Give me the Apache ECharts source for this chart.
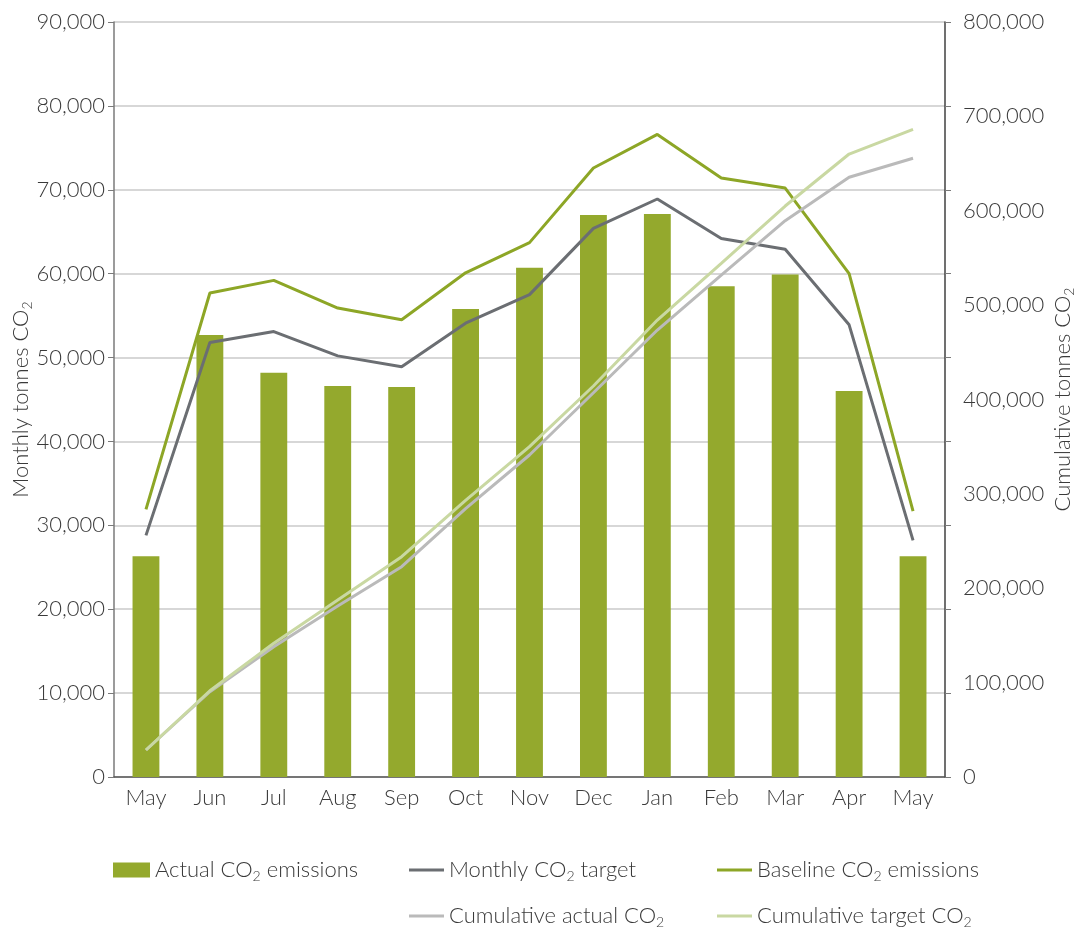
<!DOCTYPE html>
<html>
<head>
<meta charset="utf-8">
<script src="https://cdn.jsdelivr.net/npm/echarts@6/dist/echarts.min.js"></script>
<style>
html,body{margin:0;padding:0;background:#fff;}
#chart{width:1076px;height:928px;}
</style>
</head>
<body>
<div id="chart"></div>
<script>
const months = ['May','Jun','Jul','Aug','Sep','Oct','Nov','Dec','Jan','Feb','Mar','Apr','May'];
const actualCO2 = [26300, 52700, 48200, 46600, 46500, 55800, 60700, 67000, 67100, 58500, 59900, 46000, 26300];
const monthlyTarget = [28800, 51800, 53100, 50200, 48900, 54100, 57500, 65400, 68900, 64200, 62900, 53900, 28200];
const baselineCO2 = [31900, 57700, 59200, 55900, 54500, 60100, 63700, 72600, 76600, 71400, 70200, 60000, 31700];
const cumulativeActual = [28600, 90400, 138100, 181200, 222800, 284300, 341200, 407200, 473600, 531900, 589500, 635500, 655600];
const cumulativeTarget = [28600, 91400, 141700, 187600, 233400, 293200, 350000, 414300, 484200, 544300, 605000, 660100, 686300];
const leftTicks = {min: 0, max: 90000, interval: 10000};
const rightTicks = {min: 0, max: 800000, interval: 100000};

const FONT = 'Lato';
const FS = 22;
const TXT = '#3a3a3a';
const C_BAR = '#94A92D';
const C_BASE = '#8DA626';
const C_TGT = '#6B6E72';
const C_CA = '#BABABA';
const C_CT = '#C9D8A2';

const sub = s => s.replace('CO2', 'CO{s|2}');
const richSub = {s: {fontSize: 14, fontFamily: FONT, fontWeight: 300, color: TXT, padding: [13, 0, 0, 0]}};
const fmt = v => Number(v).toLocaleString('en-US');

const chart = echarts.init(document.getElementById('chart'));

function lg(name, left, top, isBar) {
  return {
    data: [name],
    left: left, top: top,
    padding: 0,
    orient: 'horizontal',
    icon: 'rect',
    itemWidth: isBar ? 37 : 35,
    itemHeight: isBar ? 15 : 3,
    itemGap: 8,
    selectedMode: false,
    formatter: n => sub(n),
    textStyle: {fontFamily: FONT, fontWeight: 300, fontSize: FS, color: TXT, rich: richSub}
  };
}

chart.setOption({
  animation: false,
  backgroundColor: '#fff',
  grid: {left: 114, right: 131, top: 22, bottom: 151, containLabel: false, outerBoundsMode: 'none'},
  legend: [
    lg('Actual CO2 emissions', 113, 859, true),
    lg('Monthly CO2 target', 409, 859, false),
    lg('Baseline CO2 emissions', 717, 859, false),
    lg('Cumulative actual CO2', 409, 905, false),
    lg('Cumulative target CO2', 717, 905, false)
  ],
  xAxis: {
    type: 'category',
    data: months,
    boundaryGap: true,
    axisLine: {show: true, lineStyle: {color: '#555', width: 1.5}},
    axisTick: {show: false},
    axisLabel: {fontFamily: FONT, fontWeight: 300, fontSize: FS, color: TXT, margin: 10}
  },
  yAxis: [
    {
      type: 'value', position: 'left',
      min: leftTicks.min, max: leftTicks.max, interval: leftTicks.interval,
      name: 'Monthly tonnes CO{s|2}',
      nameLocation: 'middle', nameRotate: 90, nameGap: 80, nameMoveOverlap: false,
      nameTextStyle: {fontFamily: FONT, fontWeight: 300, fontSize: FS, color: TXT, rich: richSub},
      axisLine: {show: true, lineStyle: {color: '#7a7a7a', width: 1.5}},
      axisTick: {show: true, length: 6, lineStyle: {color: '#7a7a7a'}},
      axisLabel: {fontFamily: FONT, fontWeight: 300, fontSize: FS, color: TXT, margin: 9, formatter: fmt},
      splitLine: {show: true, lineStyle: {color: '#CACACA', width: 1.5}}
    },
    {
      type: 'value', position: 'right',
      min: rightTicks.min, max: rightTicks.max, interval: rightTicks.interval,
      name: 'Cumulative tonnes CO{s|2}',
      nameLocation: 'middle', nameRotate: 90, nameGap: 104, nameMoveOverlap: false,
      nameTextStyle: {fontFamily: FONT, fontWeight: 300, fontSize: FS, color: TXT, rich: richSub},
      axisLine: {show: true, lineStyle: {color: '#404040', width: 1.5}},
      axisTick: {show: false},
      axisLabel: {fontFamily: FONT, fontWeight: 300, fontSize: FS, color: TXT, margin: 18, formatter: fmt},
      splitLine: {show: false}
    },
    {
      type: 'value', position: 'right',
      min: leftTicks.min, max: leftTicks.max, interval: leftTicks.interval,
      axisLine: {show: false},
      axisTick: {show: true, length: 6, lineStyle: {color: '#7a7a7a'}},
      axisLabel: {show: false},
      splitLine: {show: false}
    }
  ],
  series: [
    {name: 'Actual CO2 emissions', type: 'bar', yAxisIndex: 0, data: actualCO2, barWidth: '42%',
      itemStyle: {color: C_BAR}},
    {name: 'Monthly CO2 target', type: 'line', yAxisIndex: 0, data: monthlyTarget, symbol: 'none',
      lineStyle: {color: C_TGT, width: 3}, itemStyle: {color: C_TGT}, z: 3},
    {name: 'Baseline CO2 emissions', type: 'line', yAxisIndex: 0, data: baselineCO2, symbol: 'none',
      lineStyle: {color: C_BASE, width: 3}, itemStyle: {color: C_BASE}, z: 3},
    {name: 'Cumulative actual CO2', type: 'line', yAxisIndex: 1, data: cumulativeActual, symbol: 'none',
      lineStyle: {color: C_CA, width: 3}, itemStyle: {color: C_CA}, z: 3},
    {name: 'Cumulative target CO2', type: 'line', yAxisIndex: 1, data: cumulativeTarget, symbol: 'none',
      lineStyle: {color: C_CT, width: 3}, itemStyle: {color: C_CT}, z: 3}
  ]
});
</script>
</body>
</html>
